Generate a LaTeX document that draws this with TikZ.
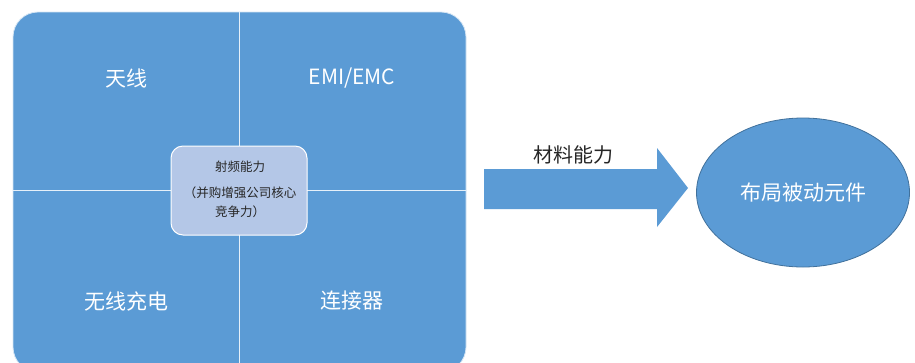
\documentclass[tikz,border=0pt]{standalone}
\usepackage{fontspec}
\setmainfont{Noto Sans CJK SC}
\usetikzlibrary{shapes.geometric}
\definecolor{blockblue}{HTML}{5B9BD5}
\definecolor{lightblock}{HTML}{B4C7E7}
\definecolor{edgeblue}{HTML}{41719C}
\definecolor{textdark}{HTML}{262626}
\tikzset{
  quadlabel/.style={text=white, font=\fontsize{21}{25}\selectfont, inner sep=0pt},
  divider/.style={draw=white!85!blockblue, line width=0.9pt},
}
\begin{document}
\begin{tikzpicture}[x=1pt,y=-1pt]
\useasboundingbox (0,0) rectangle (915,362);
\clip (0,0) rectangle (915,362);
\fill[white] (0,0) rectangle (915,362);
% big rounded panel
\draw[fill=blockblue, draw=white!75!blockblue, line width=0.8pt, rounded corners=25pt] (13,12) rectangle (466,372);
\coordinate (vtop) at (239,12);
\coordinate (vbot) at (239,372);
\coordinate (hl) at (13,190.5);
\coordinate (hr) at (466,190.5);
\draw[divider] (vtop) -- (vbot);
\draw[divider] (hl) -- (hr);
% quadrant labels
\node[quadlabel] (ant) at (126,78) {天线};
\node[quadlabel] (emi) at (352,78) {EMI/EMC};
\node[quadlabel] (wcc) at (126,301) {无线充电};
\node[quadlabel] (con) at (352,301) {连接器};
% center box
\node[draw=white, line width=1pt, fill=lightblock, rounded corners=12pt,
      minimum width=136pt, minimum height=89pt, inner sep=0pt] (core) at (239,190.5) {};
\node[text=textdark, align=center, font=\fontsize{12.5}{19}\selectfont, inner sep=0pt] (coretext) at (240,189.5)
  {射频能力\\[7pt]（并购增强公司核心\\竞争力）};
% block arrow
\fill[blockblue] (484,169) -- (657,169) -- (657,148) -- (688,188) -- (657,227) -- (657,209) -- (484,209) -- cycle;
\node[text=textdark, font=\fontsize{20}{24}\selectfont, inner sep=0pt] (mat) at (573,155) {材料能力};
% ellipse
\node[ellipse, draw=edgeblue, line width=0.8pt, fill=blockblue, minimum width=213pt, minimum height=149pt,
      inner sep=0pt] (layout) at (803,192.5) {};
\node[text=white, font=\fontsize{21}{25}\selectfont, inner sep=0pt] (layouttext) at (803,193) {布局被动元件};
\end{tikzpicture}
\end{document}
